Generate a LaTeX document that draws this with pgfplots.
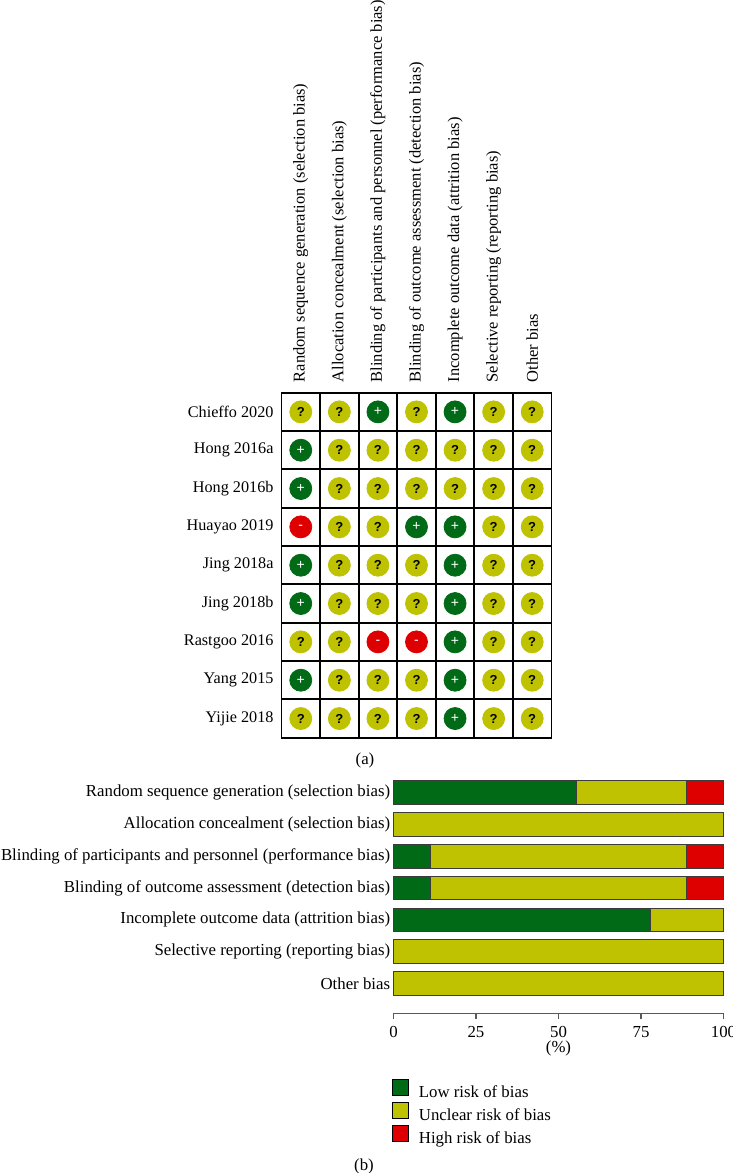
\documentclass[border=0pt]{standalone}
\usepackage{pgfplots}
\pgfplotsset{compat=1.18}
\usepackage{pgfplotstable}
\usepackage{fontspec}
\setmainfont{Liberation Serif}
\setsansfont{Liberation Sans}
\definecolor{cgreen}{RGB}{0,106,22}
\definecolor{cyellow}{RGB}{190,194,0}
\definecolor{cred}{RGB}{222,0,0}
\definecolor{cborder}{RGB}{60,60,60}

% risk-of-bias summary: x = domain (1..7), y = study (9 = Chieffo 2020 ... 1 = Yijie 2018)
\pgfplotstableread{
x y
1 8
1 7
1 5
1 4
1 2
3 9
4 6
5 9
5 6
5 5
5 4
5 3
5 2
5 1
}\lowtab
\pgfplotstableread{
x y
1 6
3 3
4 3
}\hightab
\pgfplotstableread{
x y
1 9
1 3
1 1
2 1
2 2
2 3
2 4
2 5
2 6
2 7
2 8
2 9
3 8
3 7
3 6
3 5
3 4
3 2
3 1
4 9
4 8
4 7
4 5
4 4
4 2
4 1
5 8
5 7
6 1
6 2
6 3
6 4
6 5
6 6
6 7
6 8
6 9
7 1
7 2
7 3
7 4
7 5
7 6
7 7
7 8
7 9
}\unctab

% risk-of-bias graph (percent)
\pgfplotstableread{
y low unclear high
7 55.56 33.33 11.11
6 0 100 0
5 11.11 77.78 11.11
4 11.11 77.78 11.11
3 77.78 22.22 0
2 0 100 0
1 0 100 0
}\bartab

\begin{document}
\begin{tikzpicture}
\useasboundingbox (0,0) rectangle (366.5pt,-586.5pt);
\begin{axis}[
  at={(140.75pt,-196.35pt)}, anchor=north west,
  scale only axis, width=135pt, height=172.5pt,
  xmin=0.5, xmax=7.5, ymin=0.5, ymax=9.5,
  xtick={1,...,7}, ytick={1,...,9},
  xticklabels={Random sequence generation (selection bias),
    Allocation concealment (selection bias),
    Blinding of participants and personnel (performance bias),
    Blinding of outcome assessment (detection bias),
    Incomplete outcome data (attrition bias),
    Selective reporting (reporting bias),
    Other bias},
  yticklabels={Yijie 2018, Yang 2015, Rastgoo 2016, Jing 2018b, Jing 2018a,
    Huayao 2019, Hong 2016b, Hong 2016a, Chieffo 2020},
  xticklabel pos=upper,
  xticklabel style={rotate=90, anchor=west, inner ysep=0pt, inner xsep=5pt, font=\fontsize{8.25}{10}\selectfont},
  yticklabel style={inner xsep=3.8pt, font=\fontsize{8.1}{9.6}\selectfont},
  major tick length=0pt, minor tick length=0pt,
  minor xtick={1.5,2.5,...,6.5}, minor ytick={1.5,2.5,...,8.5},
  xminorgrids, yminorgrids,
  minor grid style={black, line width=0.9pt},
  axis line style={black, line width=0.9pt},
  clip=false,
]
\addplot[only marks, mark=*, mark size=5.5pt, mark options={draw=cgreen, fill=cgreen}] table[x=x,y=y]{\lowtab};
\addplot[only marks, mark=*, mark size=5.5pt, mark options={draw=cyellow, fill=cyellow}] table[x=x,y=y]{\unctab};
\addplot[only marks, mark=*, mark size=5.5pt, mark options={draw=cred, fill=cred}] table[x=x,y=y]{\hightab};
\addplot[only marks, mark=text, text mark={+}, text mark as node=true,
  text mark style={text=white, font=\sffamily\fontsize{7}{7}\selectfont, anchor=center, inner sep=0pt}] table[x=x,y=y]{\lowtab};
\addplot[only marks, mark=text, text mark={?}, text mark as node=true,
  text mark style={text=black, font=\sffamily\bfseries\fontsize{6.5}{7}\selectfont, anchor=center, inner sep=0pt}] table[x=x,y=y]{\unctab};
\addplot[only marks, mark=text, text mark={-}, text mark as node=true,
  text mark style={text=white, font=\sffamily\fontsize{7}{7}\selectfont, anchor=center, inner sep=0pt}] table[x=x,y=y]{\hightab};
\end{axis}

\node[font=\fontsize{8.4}{10}\selectfont] at (182.5pt,-380pt) {(a)};

\begin{axis}[
  at={(196.75pt,-506.65pt)}, anchor=south west,
  scale only axis, width=165pt, height=118.4pt,
  xmin=0, xmax=100, ymin=0.071, ymax=7.5,
  xbar stacked, bar width=0.744,
  axis x line*=bottom, axis y line*=left,
  every outer x axis line/.append style={-},
  x axis line style={draw=black!65, line width=0.8pt, -},
  y axis line style={draw=none},
  xtick={0,25,50,75,100},
  xtick align=outside,
  xtick style={draw=black!65, line width=0.8pt},
  major tick length=3pt,
  ytick={1,...,7},
  yticklabels={Other bias,
    Selective reporting (reporting bias),
    Incomplete outcome data (attrition bias),
    Blinding of outcome assessment (detection bias),
    Blinding of participants and personnel (performance bias),
    Allocation concealment (selection bias),
    Random sequence generation (selection bias)},
  ytick style={draw=none},
  yticklabel style={inner xsep=1.5pt},
  /pgf/number format/assume math mode=true,
  tick label style={font=\fontsize{8.4}{10}\selectfont},
  xlabel={(\%)},
  xlabel style={font=\fontsize{8.4}{10}\selectfont, inner sep=1pt, yshift=3pt},
  legend image code/.code={\draw[#1, draw=black, line width=0.5pt] (0pt,-1pt) rectangle (8pt,7pt);},
  legend cell align=left,
  legend style={at={(axis description cs:0,0)}, anchor=north west,
    xshift=-1pt, yshift=-32.7pt, draw=none, fill=none, inner sep=0pt,
    nodes={inner sep=1pt, text height=6pt, text depth=2pt, font=\fontsize{8.4}{10}\selectfont},
    row sep=-0.8pt, column sep=4pt},
  clip=false,
]
\addplot[fill=cgreen, draw=cborder, line width=0.5pt] table[x=low, y=y]{\bartab};
\addplot[fill=cyellow, draw=cborder, line width=0.5pt] table[x=unclear, y=y]{\bartab};
\addplot[fill=cred, draw=cborder, line width=0.5pt] table[x=high, y=y]{\bartab};
\legend{Low risk of bias, Unclear risk of bias, High risk of bias}
\end{axis}

\node[font=\fontsize{8.4}{10}\selectfont] at (182pt,-583pt) {(b)};
\end{tikzpicture}
\end{document}
